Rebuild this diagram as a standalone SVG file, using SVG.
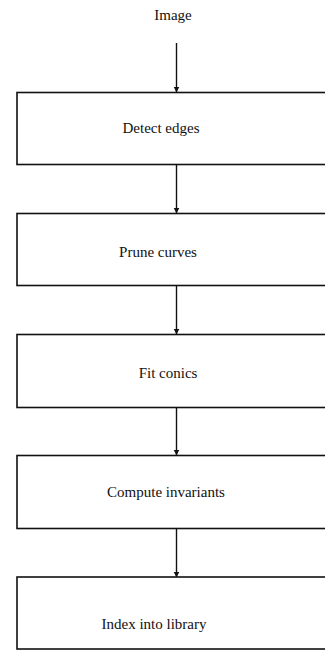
<svg xmlns="http://www.w3.org/2000/svg" width="325" height="650" viewBox="0 0 325 650">
<defs>
<marker id="ah" markerWidth="6" markerHeight="8" refX="5.5" refY="3" orient="auto" markerUnits="userSpaceOnUse">
<path d="M0,0 L6,3 L0,6 Z" fill="#111"/>
</marker>
<style>
.box{fill:#fff;stroke:#111;stroke-width:1.6}
.lbl{font-family:"Liberation Serif","Times New Roman",serif;font-size:15px;fill:#111;text-anchor:middle}
.con{stroke:#111;stroke-width:1.4;fill:none;marker-end:url(#ah)}
</style>
</defs>
<rect width="325" height="650" fill="#fff"/>
<g id="connectors">
<line class="con" x1="176.5" y1="43" x2="176.5" y2="92"/>
<line class="con" x1="176.5" y1="165" x2="176.5" y2="213"/>
<line class="con" x1="176.5" y1="286" x2="176.5" y2="334"/>
<line class="con" x1="176.5" y1="408" x2="176.5" y2="455"/>
<line class="con" x1="176.5" y1="529" x2="176.5" y2="577"/>
</g>
<g id="image"><text class="lbl" x="173" y="20">Image</text></g>
<g id="detect"><rect class="box" x="17" y="92.5" width="320" height="72"/><text class="lbl" x="161" y="133">Detect edges</text></g>
<g id="prune"><rect class="box" x="17" y="213.5" width="320" height="72"/><text class="lbl" x="158" y="257">Prune curves</text></g>
<g id="fit"><rect class="box" x="17" y="334.5" width="320" height="73"/><text class="lbl" x="168" y="378">Fit conics</text></g>
<g id="compute"><rect class="box" x="17" y="455.5" width="320" height="73"/><text class="lbl" x="166" y="497">Compute invariants</text></g>
<g id="index"><rect class="box" x="17" y="577" width="320" height="72"/><text class="lbl" x="154" y="629">Index into library</text></g>
</svg>
